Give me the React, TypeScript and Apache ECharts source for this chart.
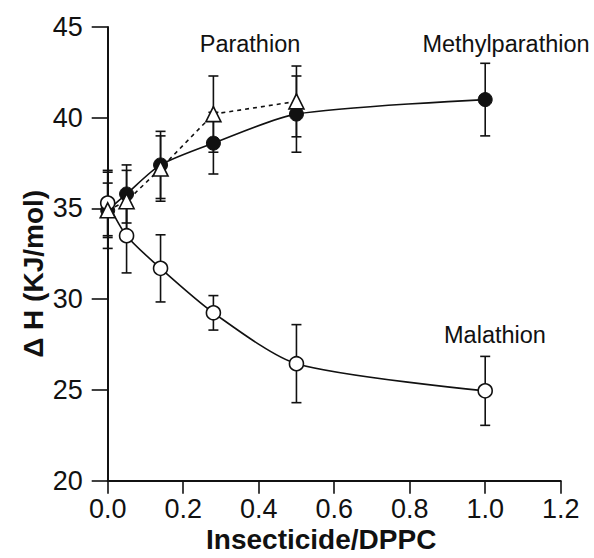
import React, { useEffect, useRef } from "react";
import * as echarts from "echarts";

const xValues = [0, 0.05, 0.14, 0.28, 0.5, 1.0];
const methylMean = [34.9, 35.8, 37.4, 38.6, 40.2, 41.0];
const methylErr = [2.1, 1.6, 1.85, 1.7, 2.1, 2.0];
const parathionX = [0, 0.05, 0.14, 0.28, 0.5];
const parathionMean = [34.9, 35.4, 37.2, 40.2, 40.9];
const parathionErr = [1.5, 1.7, 1.8, 2.1, 1.95];
const malathionMean = [35.3, 33.5, 31.7, 29.25, 26.45, 24.95];
const malathionErr = [1.8, 2.05, 1.85, 0.95, 2.15, 1.9];

const seriesLabels = ["Methylparathion", "Parathion", "Malathion"];
const xTicks = { min: 0, max: 1.2, interval: 0.2 };
const yTicks = { min: 20, max: 45, interval: 5 };

const FONT = "'Liberation Sans', Arial, Helvetica, sans-serif";

function pairs(xs: number[], ys: number[]) {
  return xs.map((x, i) => [x, ys[i]]);
}
function triples(xs: number[], ys: number[], es: number[]) {
  return xs.map((x, i) => [x, ys[i], es[i]]);
}

function errorRender(params: any, api: any) {
  const x = api.value(0);
  const y = api.value(1);
  const e = api.value(2);
  const top = api.coord([x, y + e]);
  const bot = api.coord([x, y - e]);
  const w = 5;
  const style = { stroke: "#111", lineWidth: 1.6 };
  return {
    type: "group",
    children: [
      { type: "line", shape: { x1: top[0], y1: top[1], x2: bot[0], y2: bot[1] }, style },
      { type: "line", shape: { x1: top[0] - w, y1: top[1], x2: top[0] + w, y2: top[1] }, style },
      { type: "line", shape: { x1: bot[0] - w, y1: bot[1], x2: bot[0] + w, y2: bot[1] }, style },
    ],
  };
}

export default function App() {
  const ref = useRef<HTMLDivElement>(null);
  useEffect(() => {
    if (!ref.current) return;
    const chart = echarts.init(ref.current, undefined, { renderer: "svg" });
    const axisLabelStyle = { color: "#111", fontSize: 27, fontFamily: FONT };
    const nameStyle = { color: "#111", fontSize: 28, fontWeight: "bold" as const, fontFamily: FONT };
    const annot = { fill: "#111", fontSize: 23.5, fontFamily: FONT, align: "center", verticalAlign: "middle" };
    chart.setOption({
      animation: false,
      backgroundColor: "#fff",
      grid: {
        left: 107.7,
        right: 33.3,
        top: 27,
        bottom: 77.3,
        containLabel: false,
        outerBoundsMode: "none",
      },
      xAxis: {
        type: "value",
        min: xTicks.min,
        max: xTicks.max,
        interval: xTicks.interval,
        name: "Insecticide/DPPC",
        nameLocation: "middle",
        nameGap: 45,
        nameMoveOverlap: false,
        nameTextStyle: { ...nameStyle, padding: [0, 26, 0, 0] },
        axisLine: { show: true, onZero: false, lineStyle: { color: "#111", width: 2 } },
        axisTick: { show: true, inside: false, length: 13, lineStyle: { color: "#111", width: 1.6 } },
        axisLabel: { ...axisLabelStyle, margin: 15, formatter: (v: number) => v.toFixed(1) },
        splitLine: { show: false },
      },
      yAxis: {
        type: "value",
        min: yTicks.min,
        max: yTicks.max,
        interval: yTicks.interval,
        name: "Δ H (KJ/mol)",
        nameLocation: "middle",
        nameGap: 60,
        nameRotate: 90,
        nameMoveOverlap: false,
        nameTextStyle: { ...nameStyle, padding: [0, 40, 0, 0] },
        axisLine: { show: true, onZero: false, lineStyle: { color: "#111", width: 2 } },
        axisTick: { show: true, inside: false, length: 16, lineStyle: { color: "#111", width: 1.6 } },
        axisLabel: { ...axisLabelStyle, margin: 25 },
        splitLine: { show: false },
      },
      series: [
        {
          type: "custom",
          name: seriesLabels[0] + " err",
          renderItem: errorRender,
          data: triples(xValues, methylMean, methylErr),
          encode: { x: 0, y: 1 },
          z: 1,
          clip: false,
        },
        {
          type: "custom",
          name: seriesLabels[2] + " err",
          renderItem: errorRender,
          data: triples(xValues, malathionMean, malathionErr),
          encode: { x: 0, y: 1 },
          z: 1,
          clip: false,
        },
        {
          type: "custom",
          name: seriesLabels[1] + " err",
          renderItem: errorRender,
          data: triples(parathionX, parathionMean, parathionErr),
          encode: { x: 0, y: 1 },
          z: 1,
          clip: false,
        },
        {
          type: "line",
          name: seriesLabels[0],
          data: pairs(xValues, methylMean),
          smooth: 0.25,
          symbol: "circle",
          symbolSize: 14,
          showAllSymbol: true,
          lineStyle: { color: "#111", width: 1.6 },
          itemStyle: { color: "#111", borderColor: "#111", borderWidth: 1 },
          z: 2,
        },
        {
          type: "line",
          name: seriesLabels[2],
          data: pairs(xValues, malathionMean),
          smooth: 0.25,
          symbol: "circle",
          symbolSize: 14,
          showAllSymbol: true,
          lineStyle: { color: "#111", width: 1.6 },
          itemStyle: { color: "#fff", borderColor: "#111", borderWidth: 1.6 },
          z: 3,
        },
        {
          type: "line",
          name: seriesLabels[1],
          data: pairs(parathionX, parathionMean),
          smooth: false,
          symbol: "triangle",
          symbolSize: 15,
          showAllSymbol: true,
          lineStyle: { color: "#111", width: 1.6, type: [4, 4] },
          itemStyle: { color: "#fff", borderColor: "#111", borderWidth: 1.6 },
          z: 4,
        },
      ],
      graphic: [
        { type: "text", x: 250, y: 44, style: { ...annot, text: seriesLabels[1] } },
        { type: "text", x: 506, y: 44, style: { ...annot, text: seriesLabels[0] } },
        { type: "text", x: 495, y: 335, style: { ...annot, text: seriesLabels[2] } },
      ],
    });
    return () => chart.dispose();
  }, []);
  return (
    <div
      ref={ref}
      style={{ position: "fixed", left: 0, top: 0, width: 594, height: 558, background: "#fff" }}
    />
  );
}
